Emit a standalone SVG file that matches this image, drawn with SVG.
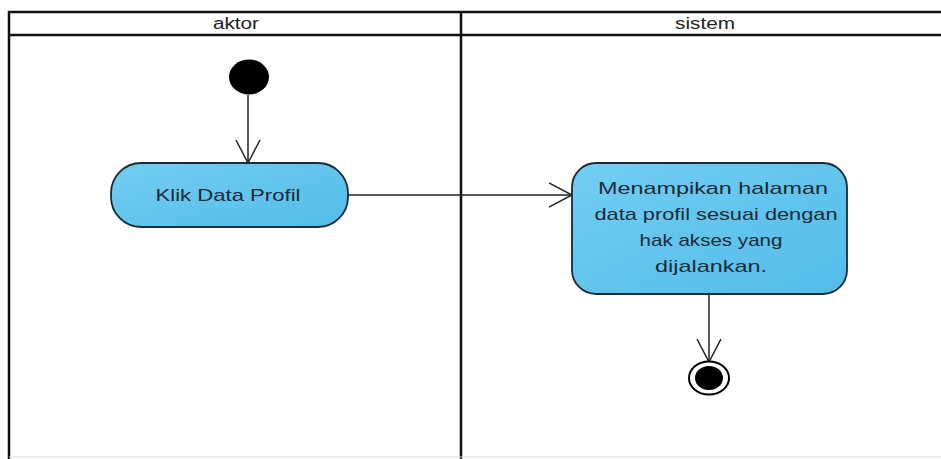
<svg xmlns="http://www.w3.org/2000/svg" width="941" height="459" viewBox="0 0 941 459">
<style>
.lane{fill:none;stroke:#111;stroke-width:2.5}
.act{stroke:#1b2a33;stroke-width:1.8;fill:url(#g)}
.t{font-family:"Liberation Sans",Arial,sans-serif;font-size:17px;fill:#1c2a36;text-anchor:middle}
.h{font-family:"Liberation Sans",Arial,sans-serif;font-size:16px;fill:#222;text-anchor:middle}
.edge{fill:none;stroke:#222;stroke-width:1.5;marker-end:url(#arr)}
</style>
<defs>
<linearGradient id="g" x1="0" y1="0" x2="1" y2="1">
<stop offset="0" stop-color="#72cdf2"/>
<stop offset="1" stop-color="#52bce8"/>
</linearGradient>
<marker id="arr" viewBox="0 0 24 26" refX="23" refY="13" markerWidth="24" markerHeight="26" markerUnits="userSpaceOnUse" orient="auto">
<path d="M0,1 L23,13 L0,25" fill="none" stroke="#222" stroke-width="1.5"/>
</marker>
</defs>
<rect width="941" height="459" fill="#fff"/>
<g id="swimlanes">
<path class="lane" d="M9,459 V12 H941 M9,35 H941 M461,12 V459"/>
<path d="M9,457 H941" stroke="#ddd" stroke-width="1"/>
<text class="h" x="236" y="29" textLength="46" lengthAdjust="spacingAndGlyphs">aktor</text>
<text class="h" x="705" y="29" textLength="60" lengthAdjust="spacingAndGlyphs">sistem</text>
</g>
<g id="connectors">
<path class="edge" d="M248,95 V163"/>
<path class="edge" d="M348,195 H572"/>
<path class="edge" d="M709,294 V362"/>
</g>
<g id="start">
<ellipse cx="249" cy="77" rx="20" ry="17.5" fill="#000"/>
</g>
<g id="klik">
<rect class="act" x="111" y="163" width="237" height="64" rx="30" ry="30"/>
<text class="t" x="228" y="201" textLength="145" lengthAdjust="spacingAndGlyphs">Klik Data Profil</text>
</g>
<g id="tampil">
<rect class="act" x="572" y="163" width="275" height="131" rx="24" ry="24"/>
<text class="t" x="713" y="194" textLength="230" lengthAdjust="spacingAndGlyphs">Menampikan halaman</text>
<text class="t" x="716" y="220" textLength="243" lengthAdjust="spacingAndGlyphs">data profil sesuai dengan</text>
<text class="t" x="711" y="246" textLength="143" lengthAdjust="spacingAndGlyphs">hak akses yang</text>
<text class="t" x="711" y="272" textLength="112" lengthAdjust="spacingAndGlyphs">dijalankan.</text>
</g>
<g id="end">
<ellipse cx="709" cy="378" rx="20" ry="16.5" fill="#fff" stroke="#000" stroke-width="2"/>
<ellipse cx="709" cy="378" rx="14" ry="12" fill="#000"/>
</g>
</svg>
